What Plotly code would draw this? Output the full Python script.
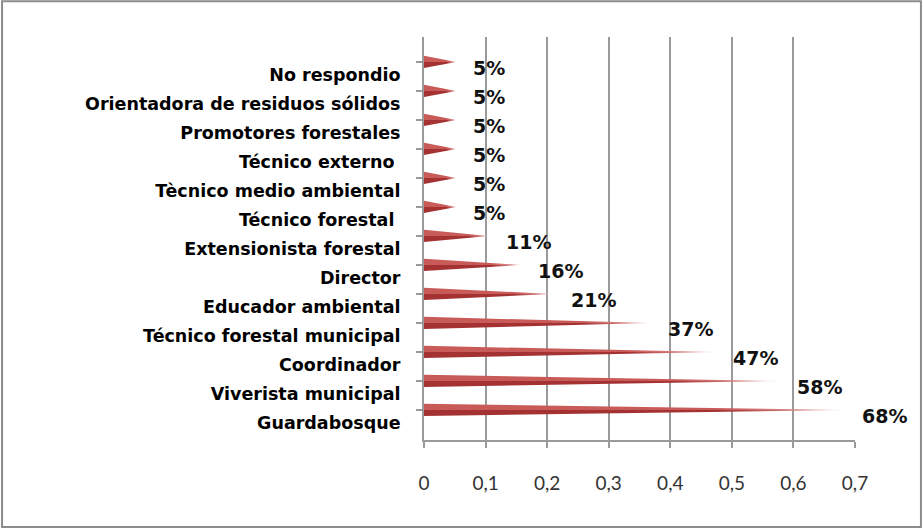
import plotly.graph_objects as go

# Categories, listed top to bottom as in the chart
categories = [
    "No respondio",
    "Orientadora de residuos sólidos",
    "Promotores forestales",
    "Técnico externo ",
    "Tècnico medio ambiental",
    "Técnico forestal ",
    "Extensionista forestal",
    "Director",
    "Educador ambiental",
    "Técnico forestal municipal",
    "Coordinador",
    "Viverista municipal",
    "Guardabosque",
]
shares = [0.0526, 0.0526, 0.0526, 0.0526, 0.0526, 0.0526,
          0.1053, 0.1579, 0.2105, 0.3684, 0.4737, 0.5789, 0.6842]

x_tickvals = [0, 0.1, 0.2, 0.3, 0.4, 0.5, 0.6, 0.7]
x_ticktext = ["0", "0,1", "0,2", "0,3", "0,4", "0,5", "0,6", "0,7"]

GRID = "#9a9a9a"
n = len(categories)
# bottom category gets index 0
pos = [n - 1 - i for i in range(n)]
CONE_UP = 0.45   # cone drawn a little above its label (3D depth look)
HALF = 0.21      # half-height of each cone in category units

fig = go.Figure()
for cat, v, p in zip(categories, shares, pos):
    yc = p + CONE_UP
    # upper (lit) half and lower (shaded) half of the cone
    for y_edge, base_col in ((yc + HALF, "#c85a58"), (yc - HALF, "#a53233")):
        fig.add_trace(go.Scatter(
            x=[0, v, 0, 0], y=[yc, yc, y_edge, yc],
            mode="lines", line=dict(width=0), fill="toself",
            fillgradient=dict(
                type="horizontal",
                colorscale=[[0, base_col], [0.7, base_col],
                            [0.9, "#d98c8b"], [1, "#f7e4e4"]],
            ),
            hoverinfo="skip", showlegend=False,
        ))
    fig.add_annotation(
        x=v, y=yc - 0.22, text=f"{v:.0%}", showarrow=False,
        xanchor="left", yanchor="middle", xshift=15,
        font=dict(family="DejaVu Sans", size=19, color="#111", weight="bold"),
    )

y_range = [-0.586, 13.31]

fig.add_trace(go.Scatter(x=[None], y=[None], yaxis="y2", showlegend=False))

fig.update_layout(
    width=923, height=529,
    margin=dict(l=424, r=68, t=37, b=89),
    paper_bgcolor="white", plot_bgcolor="white",
    xaxis=dict(
        range=[0, 0.7], tickvals=x_tickvals, ticktext=x_ticktext,
        showgrid=True, gridcolor=GRID, gridwidth=2,
        showline=True, linecolor=GRID, linewidth=2,
        ticks="outside", ticklen=6, tickcolor=GRID, tickwidth=2,
        ticklabelstandoff=19, zeroline=False,
        tickfont=dict(family="Lato", size=19, color="#333"),
    ),
    yaxis=dict(
        range=y_range, tickvals=pos, ticktext=categories,
        showgrid=False, zeroline=False,
        showline=True, linecolor=GRID, linewidth=2,
        ticks="", ticklabelstandoff=18,
        tickfont=dict(family="DejaVu Sans", size=17.5, color="#000", weight="bold"),
    ),
    yaxis2=dict(
        range=y_range, overlaying="y", side="left",
        tickvals=[p + CONE_UP for p in pos], showticklabels=False,
        ticks="outside", ticklen=7, tickcolor=GRID, tickwidth=2,
        showgrid=False, zeroline=False, showline=False,
    ),
    shapes=[dict(
        type="rect", xref="paper", yref="paper",
        x0=-0.979, x1=1.153, y0=-0.216, y1=1.089,
        line=dict(color="#8c8c8c", width=2), fillcolor="rgba(0,0,0,0)",
        layer="below",
    )],
)

fig.write_html("out.html", config={"displayModeBar": False},
               post_script="document.body.style.margin='0px';")
